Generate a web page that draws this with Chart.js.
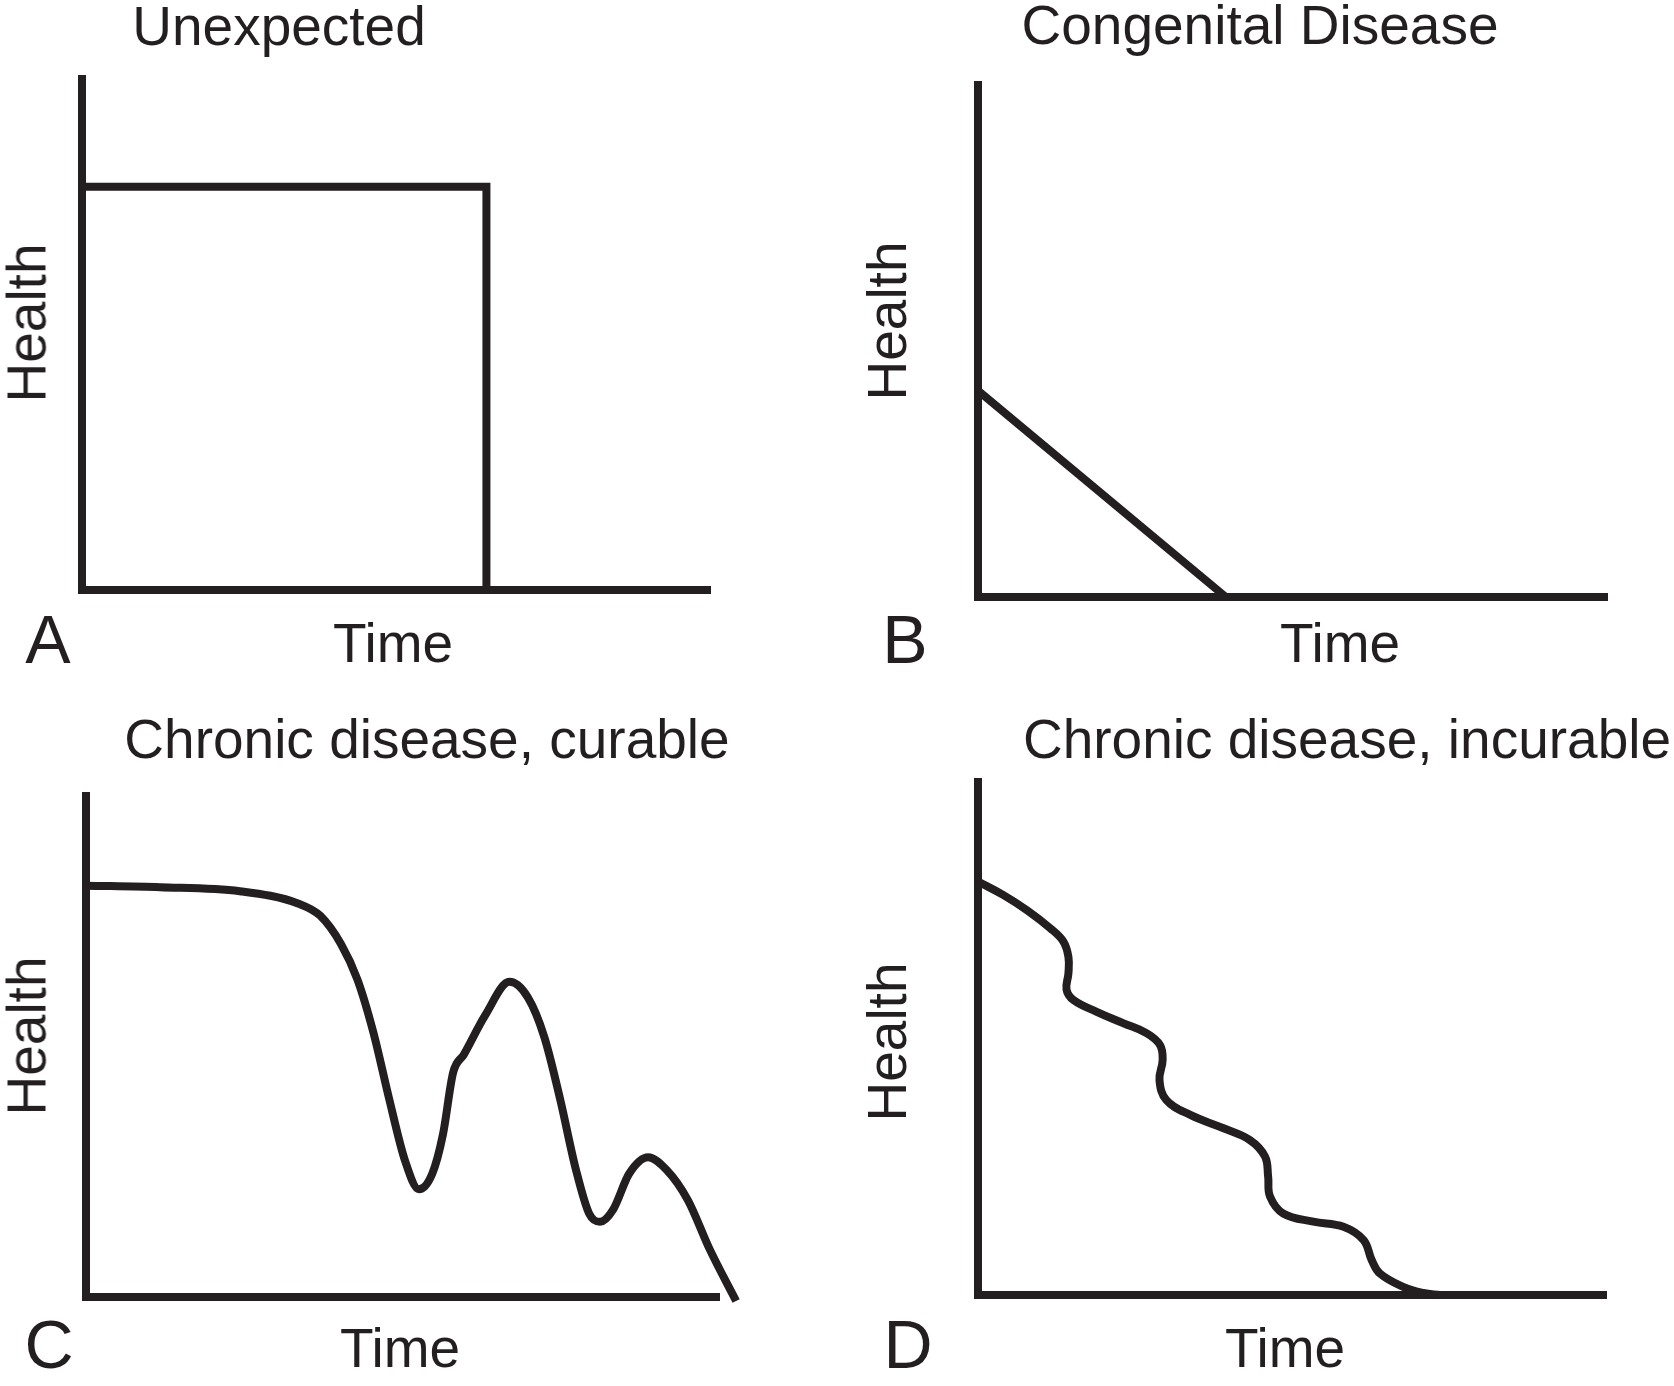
<!DOCTYPE html>
<html>
<head>
<meta charset="utf-8">
<script src="https://cdn.jsdelivr.net/npm/chart.js@4.4.1/dist/chart.umd.min.js"></script>
<style>
  html, body { margin: 0; padding: 0; background: #fff; }
  body { width: 1674px; height: 1386px; position: relative; overflow: hidden;
         font-family: "Liberation Sans", Arial, Helvetica, sans-serif; color: #231f20; }
  .panel { position: absolute; }
  .txt { position: absolute; white-space: nowrap; text-align: center; font-size: 55px; line-height: 55px; width: 900px; }
  .letter { position: absolute; text-align: center; font-size: 68px; line-height: 68px; width: 120px; }
  .vtxt { position: absolute; white-space: nowrap; text-align: center; font-size: 55px; line-height: 55px; width: 300px;
          transform: translate(-50%, -50%) rotate(-90deg); }
</style>
</head>
<body>
<div class="panel" id="boxA"><canvas id="chartA"></canvas></div>
<div class="panel" id="boxB"><canvas id="chartB"></canvas></div>
<div class="panel" id="boxC"><canvas id="chartC"></canvas></div>
<div class="panel" id="boxD"><canvas id="chartD"></canvas></div>

<script>
// panel text
const panelTitles = ['Unexpected', 'Congenital Disease', 'Chronic disease, curable', 'Chronic disease, incurable'];
const panelLetters = ['A', 'B', 'C', 'D'];
const xLabel = 'Time';
const yLabel = 'Health';

// A: sudden drop
const timeA = [0, 64.4, 64.4];
const healthA = [78.9, 78.9, 0];

// B: steady decline from birth
const timeB = [0, 39.4];
const healthB = [40.3, 0];

// C: decline with partial recoveries
const timeC = [0, 11.7, 24.3, 33.6, 37.0, 40.3, 42.9, 45.4, 47.9, 50.4, 52.6, 54.7, 56.4, 58.0, 59.7,
               63.1, 66.9, 69.8, 72.4, 74.9, 77.4, 79.5, 81.2, 83.3, 85.8, 88.8, 91.7, 95.1, 98.5, 102.7];
const healthC = [82.1, 81.8, 81.0, 78.5, 76.1, 70.4, 63.3, 52.8, 39.5, 27.2, 21.5, 24.6, 32.5, 44.8, 48.4,
                 56.3, 62.9, 59.8, 51.9, 39.5, 25.4, 16.6, 15.0, 17.5, 24.6, 27.9, 25.4, 19.3, 9.6, -0.8];

// D: stepwise decline
const timeD = [0, 4.0, 7.8, 11.5, 13.6, 14.4, 14.4, 14.1, 15.2, 18.9, 23.1, 26.9, 29.0, 29.4, 28.9, 30.0,
               33.8, 39.1, 43.3, 45.7, 46.2, 46.5, 48.6, 53.4, 58.2, 61.4, 62.7, 64.0, 67.7, 70.9, 73.6];
const healthD = [80.6, 78.0, 75.0, 71.5, 68.9, 65.9, 62.7, 59.5, 57.5, 55.2, 53.0, 51.0, 48.7, 45.8, 41.9, 38.0,
                 35.1, 32.5, 30.2, 27.0, 23.1, 19.2, 15.9, 14.3, 13.3, 10.7, 6.8, 4.2, 1.6, 0.4, 0];

const ink = '#231f20';
const PAD = 40;

// plot areas (page pixels) and where the text sits
const areas = [
    { left: 82, top: 79, right: 710, bottom: 590 },
    { left: 978, top: 85, right: 1607, bottom: 597 },
    { left: 86, top: 796, right: 719, bottom: 1297 },
    { left: 978, top: 782, right: 1606, bottom: 1295 }
];
const textPos = [
    { title: [279, 46], time: [393, 663], letter: [48, 663], health: [46, 323] },
    { title: [1260, 45], time: [1340, 663], letter: [905, 663], health: [906, 321] },
    { title: [427, 759], time: [400, 1368], letter: [49, 1368], health: [46, 1036] },
    { title: [1347, 759], time: [1285, 1368], letter: [908, 1368], health: [906, 1042] }
];
// C is a function of time, D has small backward wiggles so it gets a plain spline
const curveMode = ['straight', 'straight', 'monotone', 'spline'];

function addText(cls, text, x, y) {
    var el = document.createElement('div');
    el.className = cls;
    el.textContent = text;
    document.body.appendChild(el);
    if (cls === 'txt') {
        // x = centre, y = baseline (baseline sits 46.6px below top at 55px)
        el.style.left = (x - 450) + 'px';
        el.style.top = (y - 46.6) + 'px';
    } else if (cls === 'letter') {
        el.style.left = (x - 60) + 'px';
        el.style.top = (y - 57.6) + 'px';
    } else {
        // rotated: x = baseline, y = centre
        el.style.left = (x - 19.1) + 'px';
        el.style.top = y + 'px';
    }
}

function axis() {
    return {
        type: 'linear', min: 0, max: 100,
        ticks: { display: false },
        grid: { display: false, drawTicks: false },
        border: { display: true, color: ink, width: 8 }
    };
}

function makePanel(i, id, xs, ys) {
    var a = areas[i];
    var box = document.getElementById('box' + panelLetters[i]);
    var canvas = document.getElementById(id);
    var mode = curveMode[i];
    box.style.left = (a.left - PAD) + 'px';
    box.style.top = (a.top - PAD) + 'px';
    canvas.width = a.right - a.left + 2 * PAD;
    canvas.height = a.bottom - a.top + 2 * PAD;

    new Chart(canvas.getContext('2d'), {
        type: 'line',
        data: {
            datasets: [{
                data: xs.map(function (x, k) { return { x: x, y: ys[k] }; }),
                borderColor: ink,
                borderWidth: 8,
                borderJoinStyle: 'miter',
                borderCapStyle: 'butt',
                pointRadius: 0,
                fill: false,
                clip: false,
                tension: mode === 'straight' ? 0 : 0.4,
                cubicInterpolationMode: mode === 'monotone' ? 'monotone' : 'default'
            }]
        },
        options: {
            responsive: false,
            animation: false,
            events: [],
            layout: { padding: PAD },
            plugins: { legend: { display: false }, tooltip: { enabled: false } },
            scales: { x: axis(), y: axis() }
        }
    });

    var t = textPos[i];
    addText('txt', panelTitles[i], t.title[0], t.title[1]);
    addText('txt', xLabel, t.time[0], t.time[1]);
    addText('letter', panelLetters[i], t.letter[0], t.letter[1]);
    addText('vtxt', yLabel, t.health[0], t.health[1]);
}

makePanel(0, 'chartA', timeA, healthA);
makePanel(1, 'chartB', timeB, healthB);
makePanel(2, 'chartC', timeC, healthC);
makePanel(3, 'chartD', timeD, healthD);
</script>
</body>
</html>
